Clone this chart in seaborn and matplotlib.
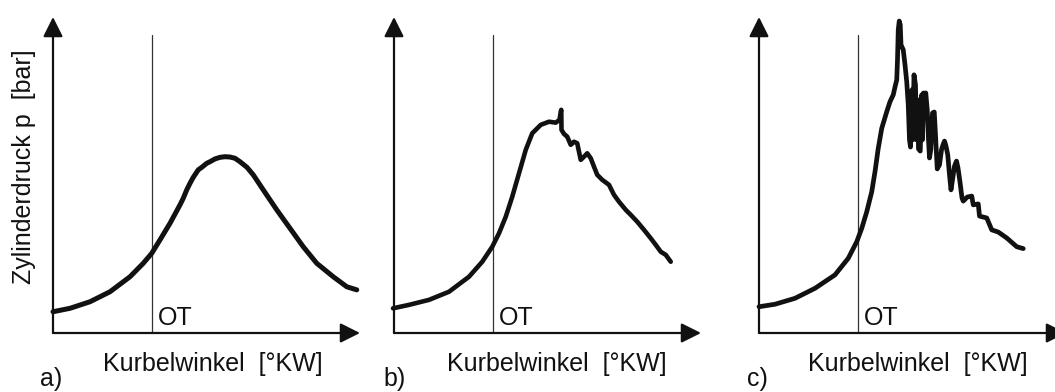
import matplotlib
matplotlib.use("Agg")
import matplotlib.pyplot as plt
import seaborn as sns
import pandas as pd

# Crank angle relative to top dead centre (OT) in °KW, cylinder pressure in bar
a_deg = [-39.6, -32.8, -24.8, -16.8, -8.8, -3.5, -0.1, 3.2, 7.2, 11.2, 12.5, 13.9, 15.2, 16.5,
         18.5, 19.9, 21.9, 23.2, 25.2, 27.2, 29.2, 31.2, 33.2, 35.2, 38.0, 40.5, 44.5, 49.9,
         55.2, 60.5, 65.9, 72.5, 77.9, 81.9]
a_bar = [6.8, 7.9, 10.0, 13.2, 18.0, 22.3, 25.5, 29.8, 35.1, 41.0, 43.1, 45.8, 47.9, 49.8,
         52.2, 53.0, 54.3, 54.8, 55.7, 56.2, 56.4, 56.3, 55.9, 54.8, 53.0, 50.6, 45.8, 39.4,
         33.5, 27.6, 22.3, 18.0, 14.8, 13.8]

b_deg = [-40, -33.6, -25.6, -17.6, -9.6, -4.3, -0.3, 2.4, 5.1, 7.7, 10.4, 13.1, 15.7, 19.1,
         22.4, 25.1, 26.6, 27.1, 27.3, 27.4, 28.4, 29.7, 31.1, 32.4, 33.7, 34.4, 35.1, 36.4,
         37.7, 39.1, 40.4, 41.7, 43.7, 46.4, 48.4, 50.4, 53.1, 55.1, 57.7, 60.4, 63.1, 65.1,
         67.1, 69.1, 71.1]
b_bar = [7.9, 9.0, 10.6, 13.2, 18.0, 22.8, 27.6, 31.9, 37.2, 43.6, 51.1, 58.6, 63.9, 66.6,
         67.6, 67.3, 68.2, 70.8, 71.4, 65.0, 63.7, 62.8, 60.2, 61.2, 60.7, 58.0, 55.4, 56.4,
         57.5, 55.9, 53.2, 50.6, 49.0, 47.4, 44.2, 42.0, 39.4, 37.8, 35.6, 33.0, 30.3, 28.2,
         26.0, 25.0, 22.8]

c_deg = [-39.6, -33.2, -25.2, -17.2, -9.2, -3.9, -0.5, 1.5, 3.5, 5.5, 6.8, 8.1, 9.5, 11.5,
         12.8, 14.1, 14.8, 15.5, 15.8, 16.1, 16.5, 16.9, 17.2, 18.1, 18.8, 19.5, 20.1, 20.6,
         21.0, 21.6, 21.9, 22.4, 23.0, 23.4, 23.8, 24.2, 24.9, 25.5, 25.8, 26.2, 26.7, 27.1,
         27.7, 28.2, 28.6, 29.1, 29.8, 30.5, 31.0, 31.3, 31.7, 32.6, 33.4, 34.0, 34.6, 35.2,
         35.9, 36.6, 37.2, 37.8, 38.6, 39.4, 40.0, 40.8, 41.6, 42.1, 43.7, 45.5, 46.1, 48.1,
         48.6, 51.5, 53.5, 56.1, 59.5, 63.5, 66.1]
c_bar = [8.4, 9.2, 11.1, 14.3, 18.6, 23.9, 29.2, 33.5, 38.8, 45.2, 51.6, 59.1, 65.5, 70.8,
         74.0, 76.2, 78.7, 81.0, 87.4, 97.0, 99.8, 98.6, 92.2, 90.6, 85.8, 80.3, 73.0, 61.8,
         59.5, 77.8, 61.8, 82.6, 79.4, 61.8, 74.6, 58.9, 58.2, 76.2, 61.8, 76.8, 70.7, 76.8,
         71.4, 61.8, 56.0, 58.6, 70.4, 70.7, 63.4, 58.6, 52.5, 53.8, 58.6, 60.2, 61.4, 59.8,
         57.0, 50.6, 45.8, 49.0, 53.4, 55.0, 52.8, 48.3, 43.2, 42.2, 43.5, 43.8, 41.0, 41.3,
         37.4, 36.8, 33.0, 32.3, 30.4, 27.6, 27.0]

panel_labels = ["a)", "b)", "c)"]
x_label = "Kurbelwinkel  [°KW]"
y_label = "Zylinderdruck p  [bar]"
ot_label = "OT"
OT_DEG = 0.0

sns.set_theme(style="white")
plt.rcParams["font.family"] = ["Liberation Sans", "DejaVu Sans"]

W, H = 1055, 392
fig = plt.figure(figsize=(W / 100, H / 100), dpi=100)
fig.patch.set_facecolor("white")

def fx(px):
    return px / W

def fy(py):
    return 1 - py / H

# left edge of each diagram, curve, line width, label positions
panels = [
    (53, a_deg, a_bar, 3.6, 40, 103),
    (394, b_deg, b_bar, 3.3, 383, 447),
    (759, c_deg, c_bar, 3.4, 747, 808),
]

ink = "#111111"
for i, (left_px, deg, bar, lw, lab_px, xl_px) in enumerate(panels):
    ax = fig.add_axes([fx(left_px), fy(333), 307 / W, 316 / H])
    ax.set_xlim(-39.6, 83.2)
    ax.set_ylim(0, 101.1)
    ax.set_xticks([])
    ax.set_yticks([])
    for s in ax.spines.values():
        s.set_visible(False)
    ax.set_facecolor("none")

    # axes drawn as arrows
    arrow = dict(arrowstyle="-|>,head_length=0.4,head_width=0.2", lw=1.6,
                 color=ink, mutation_scale=30, shrinkA=0, shrinkB=0)
    ax.annotate("", xy=(0, 1), xytext=(0, 0), xycoords="axes fraction",
                arrowprops=arrow, annotation_clip=False)
    ax.annotate("", xy=(1, 0), xytext=(0, 0), xycoords="axes fraction",
                arrowprops=arrow, annotation_clip=False)

    # top dead centre marker
    ax.axvline(OT_DEG, ymin=0, ymax=0.944, color="#333333", lw=0.9)

    df = pd.DataFrame({"deg": deg, "bar": bar})
    sns.lineplot(data=df, x="deg", y="bar", ax=ax, sort=False, estimator=None,
                 color=ink, lw=lw, solid_joinstyle="round", solid_capstyle="round",
                 clip_on=False)
    ax.set_xlabel("")
    ax.set_ylabel("")

    ot_px = left_px + 99
    fig.text(fx(ot_px + 6), fy(325), ot_label, fontsize=18, color=ink,
             ha="left", va="baseline")
    fig.text(fx(xl_px), fy(371), x_label, fontsize=18, color=ink,
             ha="left", va="baseline")
    fig.text(fx(lab_px), fy(386), panel_labels[i], fontsize=18, color=ink,
             ha="left", va="baseline")

fig.text(fx(24), fy(167), y_label, fontsize=18, color=ink, rotation=90,
         ha="center", va="center")

fig.savefig("out.png", dpi=100, facecolor="white")
